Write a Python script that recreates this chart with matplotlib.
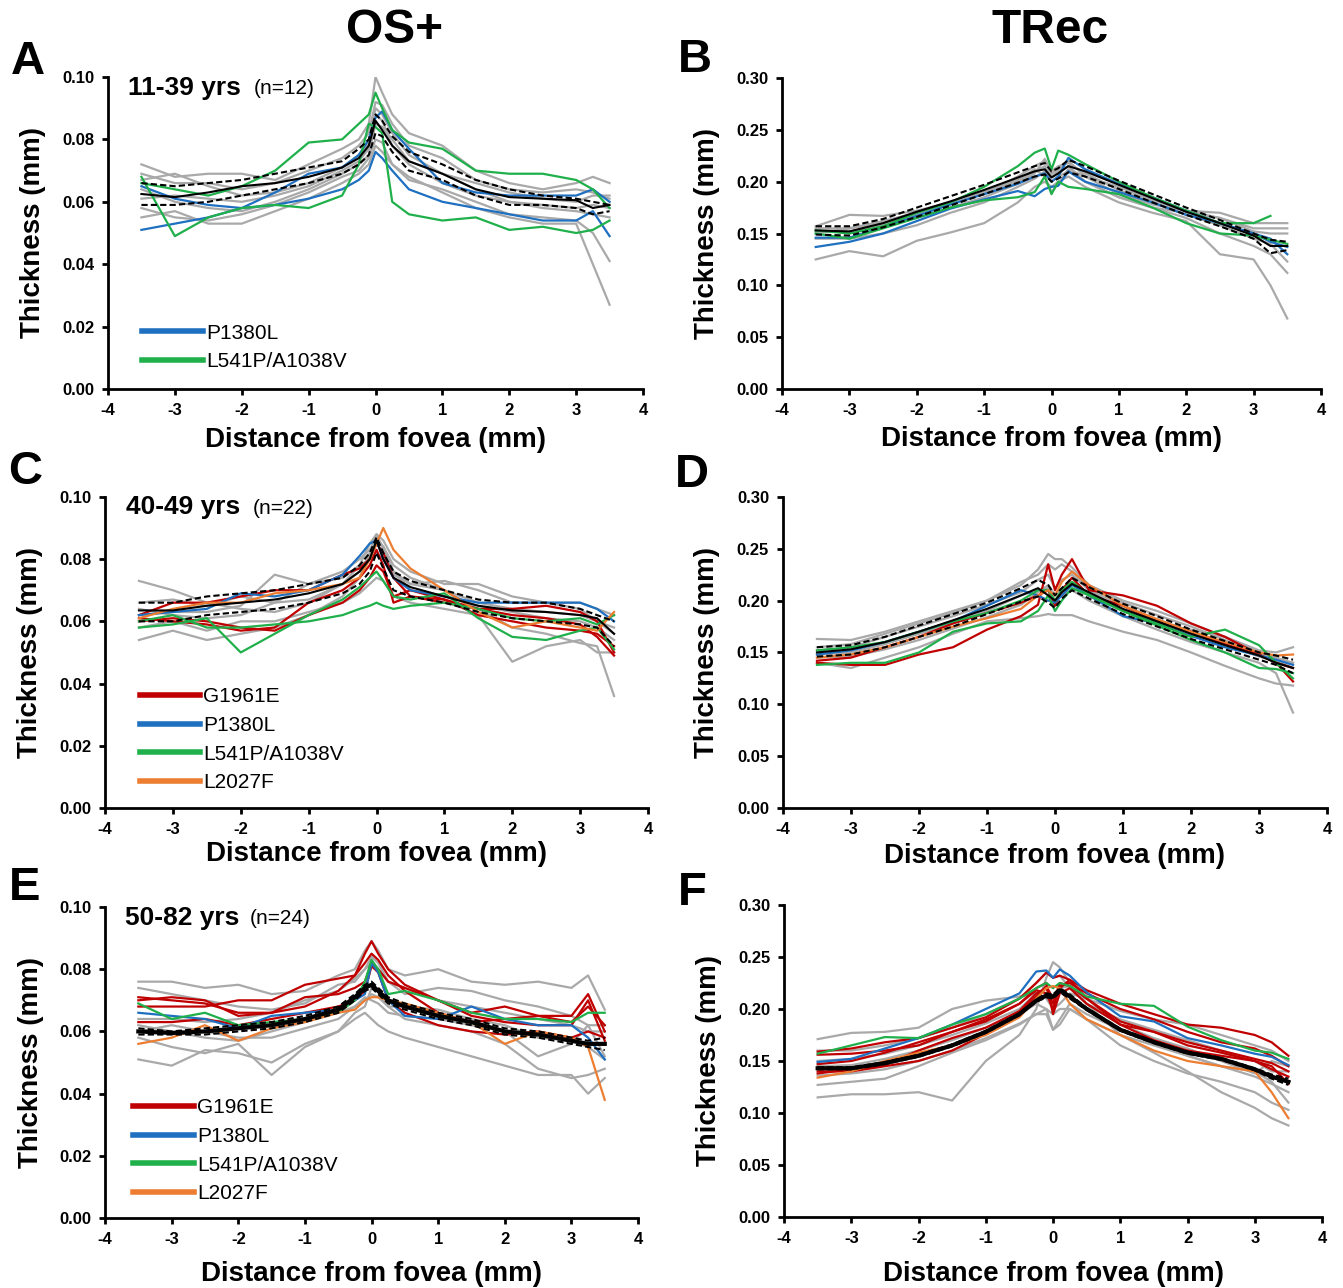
import numpy as np
import matplotlib.pyplot as plt
from matplotlib.lines import Line2D

plt.rcParams['font.family'] = ['Liberation Sans', 'DejaVu Sans']
plt.rcParams['axes.unicode_minus'] = False

# positions along the scan (mm from fovea)
x = [-3.5, -3.0, -2.5, -2.0, -1.5, -1.0, -0.5, -0.25, -0.1, 0.0,
     0.1, 0.25, 0.5, 1.0, 1.5, 2.0, 2.5, 3.0, 3.25, 3.5]

# ---- A : OS+ 11-39 yrs
a_mean = [.0625, .0615, .063, .065, .066, .068, .071, .074, .078, .086, .083, .078, .073, .069, .064, .0615, .061, .0605, .058, .059]
a_upper = [.066, .065, .066, .067, .069, .071, .073, .077, .080, .088, .086, .081, .076, .072, .067, .064, .062, .061, .060, .059]
a_lower = [.059, .059, .060, .062, .064, .066, .069, .072, .075, .082, .081, .076, .070, .067, .062, .059, .059, .058, .056, .057]
a_blue = [[.065, .061, .059, .058, .059, .061, .064, .067, .070, .076, .074, .070, .064, .060, .058, .056, .054, .054, .057, .049],
          [.051, .053, .055, .058, .063, .069, .071, .075, .080, .087, .089, .083, .077, .066, .063, .062, .062, .062, .064, .060]]
a_green = [[.068, .049, .055, .058, .059, .058, .062, .072, .085, .084, .082, .060, .056, .054, .055, .051, .052, .050, .051, .054],
           [.066, .064, .062, .065, .070, .079, .080, .085, .088, .095, .090, .083, .079, .077, .070, .069, .069, .067, .064, .058]]
a_gray = [[.072, .068, .069, .069, .067, .072, .077, .080, .085, .100, .095, .088, .082, .078, .070, .066, .064, .066, .068, .066],
          [.069, .066, .066, .064, .066, .070, .074, .078, .082, .092, .091, .085, .078, .074, .067, .064, .063, .064, .063, .061],
          [.064, .060, .058, .057, .060, .064, .069, .072, .075, .085, .084, .080, .073, .069, .064, .060, .058, .057, .056, .055],
          [.058, .055, .054, .056, .059, .063, .068, .070, .074, .080, .079, .072, .067, .064, .060, .056, .055, .054, .050, .041],
          [.055, .057, .053, .053, .057, .061, .066, .069, .072, .078, .076, .072, .068, .063, .058, .055, .053, .053, .040, .027],
          [.067, .069, .065, .062, .063, .066, .071, .075, .079, .090, .088, .082, .075, .069, .066, .063, .061, .060, .062, .062],
          [.061, .062, .061, .060, .062, .065, .070, .073, .077, .088, .086, .078, .072, .066, .062, .060, .059, .058, .059, .058]]

# ---- B : TRec 11-39 yrs
b_mean = [.153, .152, .160, .171, .181, .192, .204, .210, .212, .204, .208, .215, .210, .197, .184, .171, .160, .148, .138, .138]
b_upper = [.157, .157, .164, .175, .186, .197, .209, .215, .218, .210, .213, .221, .215, .201, .188, .175, .163, .150, .144, .142]
b_lower = [.149, .148, .156, .166, .177, .188, .199, .205, .207, .200, .203, .209, .205, .193, .180, .168, .157, .145, .131, .134]
b_blue = [[.137, .142, .150, .162, .174, .183, .191, .186, .193, .195, .196, .210, .200, .190, .180, .168, .160, .150, .145, .130],
          [.146, .146, .156, .167, .178, .188, .198, .205, .208, .200, .205, .223, .212, .198, .185, .172, .160, .150, .142, .137]]
b_green = [[.153, .150, .157, .170, .180, .195, .215, .228, .232, .212, .230, .226, .217, .200, .185, .172, .160, .160, .167, np.nan],
           [.150, .145, .155, .165, .175, .182, .185, .190, .205, .188, .200, .195, .193, .188, .175, .160, .150, .148, .144, .140]]
b_gray = [[.157, .168, .167, .172, .180, .188, .205, .215, .220, .208, .212, .220, .205, .188, .178, .172, .170, .160, .160, .160],
          [.150, .155, .160, .168, .178, .190, .200, .210, .215, .205, .210, .215, .200, .185, .175, .170, .165, .155, .155, .155],
          [.125, .133, .128, .143, .151, .160, .180, .195, .200, .195, .200, .205, .195, .180, .170, .162, .130, .125, .100, .068],
          [.145, .145, .150, .158, .170, .180, .195, .203, .210, .200, .205, .210, .200, .185, .175, .165, .150, .138, .130, .112],
          [.152, .152, .158, .165, .175, .185, .198, .208, .222, .210, .215, .218, .208, .192, .180, .168, .158, .145, .140, .123],
          [.155, .155, .162, .170, .180, .190, .202, .212, .205, .190, .198, .212, .205, .195, .182, .172, .165, .152, .150, .150]]

# ---- C : OS+ 40-49 yrs
c_mean = [.0635, .0635, .065, .066, .067, .069, .072, .076, .080, .086, .080, .074, .071, .068, .065, .0635, .063, .062, .061, .056]
c_upper = [.066, .066, .068, .069, .070, .072, .074, .078, .082, .087, .082, .076, .073, .070, .067, .066, .066, .064, .062, .060]
c_lower = [.060, .060, .062, .063, .064, .066, .069, .072, .076, .082, .077, .070, .068, .066, .063, .061, .060, .059, .058, .052]
c_red = [[.062, .066, .066, .068, .070, .070, .075, .077, .080, .085, .082, .074, .068, .066, .064, .064, .065, .063, .060, .050],
         [.061, .060, .059, .057, .058, .066, .070, .074, .078, .083, .078, .066, .068, .067, .062, .060, .058, .057, .056, .052],
         [.060, .061, .060, .058, .057, .062, .066, .070, .074, .078, .076, .068, .070, .067, .064, .062, .061, .059, .055, .049]]
c_blue = [[.062, .063, .064, .069, .068, .070, .075, .081, .085, .086, .080, .074, .070, .068, .066, .066, .066, .066, .064, .060]]
c_green = [[.058, .059, .061, .050, .056, .062, .067, .071, .074, .076, .073, .068, .067, .069, .061, .055, .054, .057, .058, .051],
           [.060, .062, .058, .058, .059, .060, .062, .064, .065, .066, .065, .064, .065, .066, .064, .061, .060, .061, .059, .062]]
c_orange = [[.061, .064, .066, .066, .069, .070, .072, .074, .080, .085, .090, .083, .077, .070, .063, .058, .060, .058, .057, .063]]
c_gray = [[.073, .070, .066, .064, .063, .066, .072, .078, .085, .088, .086, .080, .076, .072, .072, .068, .066, .066, .064, .062],
          [.054, .057, .054, .056, .058, .062, .068, .074, .082, .088, .083, .076, .072, .070, .064, .058, .056, .053, .052, .036],
          [.064, .062, .061, .062, .066, .072, .076, .080, .083, .087, .084, .078, .074, .070, .066, .064, .063, .062, .060, .056],
          [.058, .060, .057, .060, .060, .063, .066, .069, .072, .074, .073, .068, .066, .064, .062, .047, .052, .054, .050, .050],
          [.062, .063, .063, .065, .075, .072, .074, .078, .080, .082, .080, .075, .072, .073, .070, .066, .066, .064, .060, .058],
          [.066, .067, .065, .068, .066, .067, .072, .076, .080, .086, .084, .076, .070, .068, .065, .063, .061, .060, .058, .054]]

# ---- D : TRec 40-49 yrs
d_mean = [.150, .153, .160, .170, .181, .192, .205, .212, .205, .200, .208, .216, .208, .192, .180, .168, .157, .147, .140, .135]
d_upper = [.155, .157, .165, .176, .187, .198, .212, .220, .215, .205, .212, .222, .213, .197, .185, .172, .161, .150, .147, .143]
d_lower = [.146, .148, .155, .165, .175, .187, .199, .204, .198, .193, .202, .210, .202, .187, .175, .163, .153, .143, .138, .130]
d_red = [[.140, .138, .138, .148, .155, .172, .185, .196, .235, .210, .225, .240, .210, .205, .195, .178, .165, .148, .140, .122],
         [.142, .145, .155, .165, .178, .188, .198, .205, .210, .195, .210, .222, .205, .195, .180, .170, .158, .148, .140, .135]]
d_blue = [[.148, .152, .160, .170, .180, .195, .210, .205, .200, .198, .205, .215, .205, .185, .178, .166, .155, .147, .143, .138]]
d_green = [[.138, .140, .140, .150, .170, .178, .180, .190, .205, .190, .200, .212, .205, .190, .178, .165, .172, .157, .140, .125],
           [.152, .155, .160, .170, .180, .188, .200, .210, .210, .200, .210, .218, .206, .190, .176, .162, .150, .135, .134, .130]]
d_orange = [[.145, .148, .155, .165, .175, .183, .192, .205, .210, .205, .218, .228, .215, .195, .182, .170, .160, .150, .147, .148]]
d_gray = [[.163, .162, .170, .180, .190, .200, .215, .230, .245, .240, .240, .232, .215, .200, .190, .178, .165, .152, .150, .155],
          [.155, .158, .168, .178, .188, .200, .218, .225, .235, .230, .235, .228, .212, .198, .186, .175, .162, .148, .145, .140],
          [.140, .135, .145, .155, .168, .180, .183, .185, .187, .186, .186, .186, .180, .170, .162, .150, .137, .125, .120, .118],
          [.148, .150, .158, .168, .178, .190, .205, .210, .212, .200, .205, .210, .200, .185, .172, .160, .150, .140, .130, .092],
          [.152, .155, .165, .175, .185, .196, .208, .220, .225, .212, .220, .225, .210, .195, .182, .170, .158, .146, .142, .140],
          [.145, .146, .153, .162, .173, .184, .196, .208, .215, .205, .212, .218, .205, .190, .178, .172, .165, .150, .142, .135]]

# ---- E : OS+ 50-82 yrs
e_mean = [.060, .0595, .060, .061, .062, .064, .067, .071, .074, .075, .073, .070, .068, .065, .063, .060, .059, .057, .056, .056]
e_upper = [.061, .060, .061, .062, .063, .065, .068, .072, .075, .076, .074, .071, .069, .066, .064, .061, .060, .058, .057, .058]
e_lower = [.059, .059, .059, .060, .061, .063, .066, .070, .073, .074, .072, .069, .067, .064, .062, .059, .058, .056, .055, .054]
e_red = [[.070, .071, .070, .065, .066, .068, .073, .078, .085, .089, .085, .080, .075, .070, .066, .068, .065, .065, .072, .060],
         [.068, .068, .068, .070, .070, .075, .077, .078, .082, .085, .083, .078, .073, .066, .063, .064, .065, .063, .068, .062],
         [.063, .063, .064, .062, .064, .066, .068, .070, .073, .081, .079, .070, .066, .062, .060, .059, .060, .058, .060, .058],
         [.071, .070, .069, .066, .066, .071, .072, .074, .076, .082, .080, .076, .074, .070, .065, .063, .062, .062, .070, .057]]
e_blue = [[.066, .065, .064, .061, .065, .066, .067, .070, .072, .082, .079, .070, .065, .064, .068, .064, .062, .062, .058, .051]]
e_green = [[.069, .064, .066, .062, .063, .064, .066, .070, .076, .083, .080, .072, .073, .070, .066, .064, .064, .063, .066, .066]]
e_orange = [[.056, .058, .062, .057, .061, .063, .066, .067, .070, .071, .071, .070, .069, .066, .063, .056, .060, .058, .055, .038]]
e_gray = [[.076, .076, .074, .075, .072, .073, .078, .080, .086, .089, .086, .080, .078, .080, .076, .075, .076, .074, .078, .067],
          [.051, .049, .054, .053, .050, .056, .060, .064, .066, .064, .062, .060, .058, .055, .052, .049, .046, .046, .040, .045],
          [.058, .055, .053, .056, .046, .055, .060, .066, .068, .074, .073, .068, .064, .062, .060, .056, .048, .045, .046, .048],
          [.064, .064, .063, .064, .066, .070, .073, .077, .080, .082, .080, .076, .074, .070, .068, .066, .064, .062, .060, .060],
          [.062, .060, .058, .057, .060, .063, .066, .068, .070, .072, .071, .068, .068, .067, .064, .062, .058, .057, .055, .051],
          [.074, .072, .070, .068, .067, .069, .075, .076, .080, .084, .082, .076, .072, .074, .073, .070, .068, .065, .062, .062],
          [.060, .062, .060, .058, .058, .061, .064, .068, .071, .070, .069, .066, .065, .064, .062, .060, .052, .056, .062, .052]]

# ---- F : TRec 50-82 yrs
f_mean = [.143, .143, .148, .155, .165, .178, .195, .208, .213, .212, .218, .212, .200, .180, .168, .158, .152, .142, .135, .130]
f_upper = [.144, .144, .149, .156, .166, .179, .196, .209, .215, .214, .220, .214, .201, .181, .169, .159, .153, .143, .137, .133]
f_lower = [.142, .142, .147, .154, .164, .177, .194, .207, .211, .210, .216, .210, .199, .179, .167, .157, .151, .141, .133, .127]
f_red = [[.159, .162, .168, .172, .182, .192, .210, .225, .235, .230, .232, .228, .218, .205, .195, .185, .182, .175, .168, .155],
         [.156, .157, .160, .165, .178, .188, .205, .220, .225, .195, .215, .220, .205, .185, .178, .165, .158, .150, .145, .128],
         [.138, .142, .146, .160, .172, .182, .198, .215, .220, .205, .225, .222, .210, .188, .178, .168, .160, .152, .148, .140],
         [.140, .140, .145, .150, .160, .176, .196, .212, .222, .210, .220, .228, .210, .185, .170, .160, .155, .150, .142, .135],
         [.147, .150, .158, .168, .178, .190, .205, .218, .215, .200, .222, .225, .215, .200, .190, .178, .168, .162, .155, .145]]
f_blue = [[.149, .152, .162, .172, .185, .200, .215, .236, .237, .230, .238, .232, .216, .193, .188, .172, .165, .157, .154, .146]]
f_green = [[.157, .165, .173, .172, .185, .195, .210, .220, .225, .220, .225, .222, .212, .205, .203, .183, .170, .160, .158, .152]]
f_orange = [[.134, .140, .150, .158, .165, .175, .192, .210, .220, .222, .220, .205, .190, .175, .160, .150, .145, .140, .120, .095]]
f_gray = [[.171, .177, .178, .182, .200, .208, .212, .215, .210, .200, .205, .215, .210, .198, .190, .185, .175, .165, .160, .150],
          [.115, .118, .118, .120, .112, .150, .175, .200, .230, .245, .240, .225, .205, .175, .158, .140, .120, .105, .095, .088],
          [.127, .130, .133, .145, .158, .170, .185, .195, .195, .180, .185, .200, .190, .165, .150, .138, .130, .120, .110, .103],
          [.136, .138, .142, .150, .160, .172, .186, .195, .200, .195, .200, .200, .190, .175, .165, .155, .145, .140, .130, .110],
          [.150, .152, .157, .165, .175, .186, .200, .215, .220, .210, .220, .222, .205, .185, .172, .162, .150, .138, .150, .145],
          [.145, .146, .152, .160, .170, .182, .195, .205, .200, .180, .190, .205, .195, .180, .168, .155, .145, .135, .128, .120],
          [.160, .160, .165, .172, .182, .195, .210, .225, .235, .230, .232, .220, .205, .190, .180, .170, .160, .150, .140, .140]]

mut_names = ['G1961E', 'P1380L', 'L541P/A1038V', 'L2027F']
col = {'G1961E': '#c00000', 'P1380L': '#1f70c1', 'L541P/A1038V': '#20b04b', 'L2027F': '#ed7d31'}
gray = '#a9a9a9'

fig = plt.figure(figsize=(13.43, 12.88), dpi=100)

# axes rectangles [left, bottom, width, height] in figure fraction
rects = {'A': [0.0804, 0.6980, 0.3984, 0.2422], 'B': [0.5823, 0.6980, 0.4013, 0.2414],
         'C': [0.0782, 0.3727, 0.4043, 0.2415], 'D': [0.5830, 0.3727, 0.4051, 0.2415],
         'E': [0.0782, 0.0543, 0.3969, 0.2415], 'F': [0.5838, 0.0551, 0.4006, 0.2423]}

panels = {
    'A': dict(mean=a_mean, up=a_upper, lo=a_lower, gray=a_gray,
              muts={'P1380L': a_blue, 'L541P/A1038V': a_green}, os=True, xl=-0.122),
    'B': dict(mean=b_mean, up=b_upper, lo=b_lower, gray=b_gray,
              muts={'P1380L': b_blue, 'L541P/A1038V': b_green}, os=False, xl=-0.119),
    'C': dict(mean=c_mean, up=c_upper, lo=c_lower, gray=c_gray,
              muts={'G1961E': c_red, 'P1380L': c_blue, 'L541P/A1038V': c_green, 'L2027F': c_orange}, os=True, xl=-0.106),
    'D': dict(mean=d_mean, up=d_upper, lo=d_lower, gray=d_gray,
              muts={'G1961E': d_red, 'P1380L': d_blue, 'L541P/A1038V': d_green, 'L2027F': d_orange}, os=False, xl=-0.112),
    'E': dict(mean=e_mean, up=e_upper, lo=e_lower, gray=e_gray,
              muts={'G1961E': e_red, 'P1380L': e_blue, 'L541P/A1038V': e_green, 'L2027F': e_orange}, os=True, xl=-0.138),
    'F': dict(mean=f_mean, up=f_upper, lo=f_lower, gray=f_gray,
              muts={'G1961E': f_red, 'P1380L': f_blue, 'L541P/A1038V': f_green, 'L2027F': f_orange}, os=False, xl=-0.141),
}

age_text = {'A': ('11-39 yrs', '(n=12)'), 'C': ('40-49 yrs', '(n=22)'), 'E': ('50-82 yrs', '(n=24)')}
leg_pos = {'A': (0.064, 0.057), 'C': (0.064, 0.051), 'E': (0.053, 0.048)}

for key, p in panels.items():
    ax = fig.add_axes(rects[key])
    for g in p['gray']:
        ax.plot(x, g, color=gray, lw=1.6)
    for name, lines in p['muts'].items():
        for ln in lines:
            ax.plot(x, ln, color=col[name], lw=1.6)
    thick = key in ('E', 'F')
    ax.plot(x, p['up'], color='black', lw=1.5, ls=(0, (3, 1.5)))
    ax.plot(x, p['lo'], color='black', lw=1.5, ls=(0, (3, 1.5)))
    ax.plot(x, p['mean'], color='black', lw=3.0 if thick else 1.5)

    ax.set_xlim(-4, 4)
    ax.set_xticks(range(-4, 5))
    if p['os']:
        ax.set_ylim(0, 0.10)
        yt = np.arange(0, 0.101, 0.02)
    else:
        ax.set_ylim(0, 0.30)
        yt = np.arange(0, 0.301, 0.05)
    ax.set_yticks(yt)
    ax.set_yticklabels(['%.2f' % v for v in yt])
    for s in ['top', 'right']:
        ax.spines[s].set_visible(False)
    for s in ['left', 'bottom']:
        ax.spines[s].set_linewidth(2)
    ax.tick_params(direction='out', length=4, width=2, labelsize=12, pad=6)
    for t in ax.get_xticklabels() + ax.get_yticklabels():
        t.set_fontweight('bold')
    ax.set_ylabel('Thickness (mm)', fontsize=20, fontweight='bold')
    ax.set_xlabel('Distance from fovea (mm)', fontsize=20, fontweight='bold')
    ax.yaxis.set_label_coords(-0.115, 0.5)
    ax.xaxis.set_label_coords(0.5, p['xl'])

    if key in age_text:
        ax.text(0.038, 0.966, age_text[key][0], transform=ax.transAxes,
                fontsize=19, fontweight='bold', va='center')
        ax.text(0.272, 0.964, age_text[key][1], transform=ax.transAxes,
                fontsize=15, va='center')
        lx, ly = leg_pos[key]
        handles = [Line2D([], [], color=col[n], lw=4) for n in mut_names if n in p['muts']]
        labels = [n for n in mut_names if n in p['muts']]
        ax.legend(handles, labels, loc='lower left', bbox_to_anchor=(lx, ly),
                  frameon=False, fontsize=15, handlelength=2.9, handletextpad=0.15,
                  labelspacing=0.46, borderpad=0, borderaxespad=0)

letters = {'A': (0.0208, 0.9519), 'B': (0.5175, 0.9534), 'C': (0.0186, 0.6335),
           'D': (0.5153, 0.6312), 'E': (0.0186, 0.3106), 'F': (0.5153, 0.3067)}
for k, (lx, ly) in letters.items():
    fig.text(lx, ly, k, fontsize=34, fontweight='bold', ha='center', va='center')

fig.text(0.294, 0.976, 'OS+', fontsize=34.5, fontweight='bold', ha='center', va='center')
fig.text(0.782, 0.976, 'TRec', fontsize=34.5, fontweight='bold', ha='center', va='center')

fig.savefig('out.png', dpi=100)
